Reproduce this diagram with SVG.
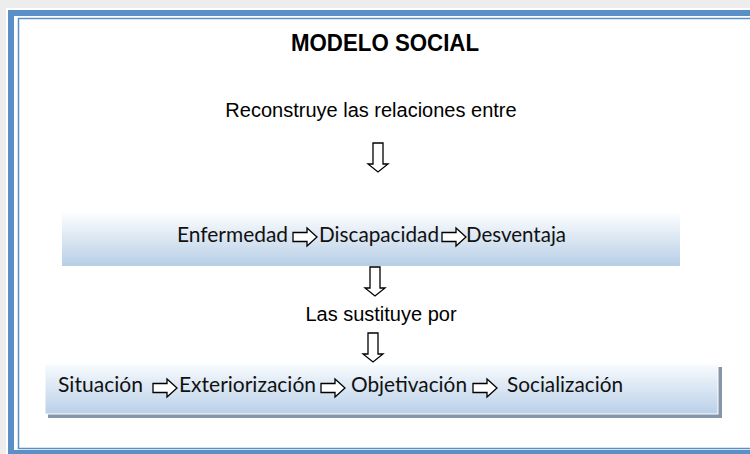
<svg xmlns="http://www.w3.org/2000/svg" width="750" height="454" viewBox="0 0 750 454">
<style>
.title{font-family:"Liberation Sans",Arial,sans-serif;font-weight:bold;font-size:23px;fill:#000}
.plain{font-family:"Liberation Sans",Arial,sans-serif;font-size:20px;fill:#000}
.box{font-family:Lato,"Open Sans",sans-serif;font-size:21px;fill:#111}
.blk{fill:#fff;stroke:#000;stroke-width:1.3;stroke-linejoin:miter}
</style>
<defs>
<linearGradient id="g1" x1="0" y1="0" x2="0" y2="1">
<stop offset="0" stop-color="#ffffff"/>
<stop offset="1" stop-color="#b7cee6"/>
</linearGradient>
<linearGradient id="g2" x1="0" y1="0" x2="0" y2="1">
<stop offset="0" stop-color="#f8fbfe"/>
<stop offset="1" stop-color="#b9d0e8"/>
</linearGradient>
<path id="down" d="M-5,0 H5 V21 H10 L0,29 L-10,21 H-5 Z"/>
<path id="right" d="M0,-4.5 H14 V-9 L24,0 L14,9 V4.5 H0 Z"/>
</defs>
<rect x="0" y="0" width="750" height="454" fill="#ededed"/>
<rect x="6" y="8" width="744" height="446" fill="#fff"/>
<g id="frame">
<rect x="11" y="13" width="800" height="440" fill="#fff" stroke="#5b8fc8" stroke-width="6"/>
<rect x="18.5" y="18.5" width="800" height="430" fill="none" stroke="#5b8fc8" stroke-width="1.5"/>
</g>
<g id="title"><text class="title" x="385" y="51" text-anchor="middle" textLength="188" lengthAdjust="spacingAndGlyphs">MODELO SOCIAL</text></g>
<g id="n-reconstruye"><text class="plain" x="371" y="117" text-anchor="middle">Reconstruye las relaciones entre</text></g>
<g id="box1">
<rect x="62" y="211" width="618" height="55" fill="url(#g1)"/>
<text class="box" x="177" y="242" textLength="111" lengthAdjust="spacingAndGlyphs">Enfermedad</text>
<use href="#right" x="293" y="237" class="blk"/>
<text class="box" x="319" y="242" textLength="120" lengthAdjust="spacingAndGlyphs">Discapacidad</text>
<use href="#right" x="442" y="237" class="blk"/>
<text class="box" x="466" y="242" textLength="100" lengthAdjust="spacingAndGlyphs">Desventaja</text>
</g>
<g id="n-sustituye"><text class="plain" x="381" y="321" text-anchor="middle">Las sustituye por</text></g>
<g id="box2">
<rect x="48" y="367" width="674" height="51" fill="#8795a8"/>
<rect x="45" y="364" width="673" height="50" fill="url(#g2)" stroke="#ffffff" stroke-width="1"/>
<text class="box" x="58" y="392" textLength="85" lengthAdjust="spacingAndGlyphs">Situación</text>
<use href="#right" x="153" y="388" class="blk"/>
<text class="box" x="179" y="392" textLength="137" lengthAdjust="spacingAndGlyphs">Exteriorización</text>
<use href="#right" x="321" y="388" class="blk"/>
<text class="box" x="351" y="392" textLength="116" lengthAdjust="spacingAndGlyphs">Objetivación</text>
<use href="#right" x="473" y="388" class="blk"/>
<text class="box" x="507" y="392" textLength="116" lengthAdjust="spacingAndGlyphs">Socialización</text>
</g>
<g id="connectors">
<use href="#down" x="378" y="143" class="blk"/>
<use href="#down" x="375" y="267" class="blk"/>
<use href="#down" x="373" y="333" class="blk"/>
</g>
</svg>
